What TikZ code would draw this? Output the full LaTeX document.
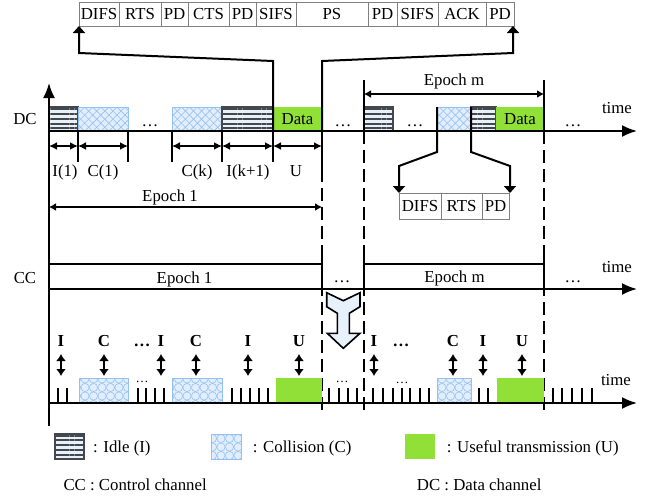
\documentclass[tikz,border=0pt]{standalone}
\usepackage{fontspec}
\setmainfont{Liberation Serif}
\usepackage{xcolor}
\usepackage{tikz}
\usetikzlibrary{arrows.meta,positioning,patterns.meta,calc}

\definecolor{idlegray}{RGB}{66,72,78}
\definecolor{idlelight}{RGB}{234,240,247}
\definecolor{collfill}{RGB}{226,238,253}
\definecolor{collline}{RGB}{150,192,240}
\definecolor{datagreen}{RGB}{144,224,56}
\definecolor{cellgray}{RGB}{128,128,128}
\definecolor{arrfill}{RGB}{230,241,252}

\tikzdeclarepattern{
  name=circmesh,
  type=uncolored,
  bounding box={(-4.25pt,-4.25pt) and (4.25pt,4.25pt)},
  tile size={(8.5pt,8.5pt)},
  code={
    \pgfsetlinewidth{0.6pt}
    \pgfpathcircle{\pgfpointorigin}{4.1pt}
    \pgfusepath{stroke}
  }
}

\begin{document}
\begin{tikzpicture}[x=1pt, y=-1pt,
font=\fontsize{16.8}{19}\selectfont,
txt/.style={anchor=base, inner sep=0pt},
legtxt/.style={anchor=base west, inner sep=0pt},
cell/.style={draw=cellgray, line width=0.8pt, minimum height=24pt, inner sep=0pt, outer sep=0pt},
blk/.style={inner sep=0pt, outer sep=0pt, minimum height=24pt, anchor=south west},
idleblk/.style={blk, draw=idlegray, line width=1.4pt, fill=idlelight, postaction={pattern={Lines[angle=0,distance=4.8pt,line width=2.1pt]}, pattern color=idlegray}},
collblk/.style={blk, draw=collline, line width=0.6pt, fill=collfill, postaction={pattern={Lines[angle=45,distance=5.7pt,line width=0.6pt]}, pattern color=collline}, postaction={pattern={Lines[angle=-45,distance=5.7pt,line width=0.6pt]}, pattern color=collline}},
collring/.style={blk, draw=collline, line width=0.6pt, fill=collfill, postaction={pattern=circmesh, pattern color=collline}},
datablk/.style={blk, fill=datagreen},
axis/.style={line width=2pt, -{Latex[length=15pt,width=12pt]}},
conn/.style={line width=2pt, -{Triangle[length=7pt,width=12pt]}},
dim/.style={line width=1.6pt, {Latex[length=8pt,width=8pt]}-{Latex[length=8pt,width=8pt]}},
vdim/.style={line width=2pt, {Latex[length=7pt,width=10pt]}-{Latex[length=7pt,width=10pt]}},
epoch/.style={line width=1.6pt, {Latex[length=7pt,width=8pt]}-{Latex[length=7pt,width=8pt]}},
bound/.style={line width=2pt, dash pattern=on 13pt off 6pt},
tick/.style={line width=2pt},
bigarr/.style={draw, line width=1.6pt, fill=arrfill, line join=miter}
]
\useasboundingbox (0,0) rectangle (654,498);

% frame exchange on top
\node[cell, minimum width=40pt, anchor=north west] (tdifs) at (79,2) {DIFS};
\node[cell, minimum width=42pt, right=0pt of tdifs] (trts) {RTS};
\node[cell, minimum width=27pt, right=0pt of trts] (tpd1) {PD};
\node[cell, minimum width=41pt, right=0pt of tpd1] (tcts) {CTS};
\node[cell, minimum width=27pt, right=0pt of tcts] (tpd2) {PD};
\node[cell, minimum width=40pt, right=0pt of tpd2] (tsifs1) {SIFS};
\node[cell, minimum width=72pt, right=0pt of tsifs1] (tps) {PS};
\node[cell, minimum width=29pt, right=0pt of tps] (tpd3) {PD};
\node[cell, minimum width=41pt, right=0pt of tpd3] (tsifs2) {SIFS};
\node[cell, minimum width=48pt, right=0pt of tsifs2] (tack) {ACK};
\node[cell, minimum width=28pt, right=0pt of tack] (tpd4) {PD};

% data channel
\node[txt] (dclab) at (25,124) {DC};
\node[idleblk, minimum width=29pt] (idle1) at (49,131) {};
\node[collblk, minimum width=50pt] (coll1) at (78,131) {};
\node[collblk, minimum width=50pt] (coll2) at (172,131) {};
\node[idleblk, minimum width=51pt] (idle2) at (222,131) {};
\node[datablk, minimum width=49pt] (data1) at (273,131) {Data};
\node[idleblk, minimum width=29pt] (idle3) at (364,131) {};
\node[collblk, minimum width=34pt] (collm) at (437,131) {};
\node[idleblk, minimum width=25pt] (idle4) at (471,131) {};
\node[datablk, minimum width=48pt] (datam) at (496,131) {Data};
\node[txt] at (150,126) {\dots};
\node[txt] at (343,126) {\dots};
\node[txt] at (415,126) {\dots};
\node[txt] at (573,126) {\dots};
\node[txt] (dctime) at (617,113) {time};

\coordinate (dc0) at (49,131);
\coordinate (dcend) at (637,131);
\draw[axis] (49,426) -- (49,83);
\draw[axis] (dc0) -- (dcend);

% boundaries of the epochs
\foreach \x in {322,364,544}
  \draw[bound] (\x,131) -- (\x,416);
\draw[tick] (322,131) -- (322,172);
\draw[tick] (364,80) -- (364,131);
\draw[tick] (544,80) -- (544,131);

% zoom on the frames
\coordinate (lbend) at (273,61);
\coordinate (lknee) at (79,53);
\coordinate (rbend) at (322,61);
\coordinate (rknee) at (513,53);
\draw[conn] (data1.south west) -- (lbend) -- (lknee) -- (tdifs.south west);
\draw[conn] (data1.south east) -- (rbend) -- (rknee) -- (rknee |- tpd4.south);

\node[cell, minimum width=42pt, minimum height=26pt, anchor=north west] (bdifs) at (399,193) {DIFS};
\node[cell, minimum width=41pt, minimum height=26pt, right=0pt of bdifs] (brts) {RTS};
\node[cell, minimum width=27pt, minimum height=26pt, right=0pt of brts] (bpd) {PD};
\coordinate (blbend) at (437,152);
\coordinate (blknee) at (399,166);
\coordinate (brbend) at (471,152);
\coordinate (brknee) at (510,166);
\draw[conn] (collm.north west) -- (blbend) -- (blknee) -- (bdifs.north west);
\draw[conn] (collm.north east) -- (brbend) -- (brknee) -- (brknee |- bpd.north);

% durations in epoch 1
\foreach \x in {78,128,172,222,273}
  \draw[tick] (\x,131) -- (\x,162);
\foreach \a/\b in {49/78,78/128,172/222,222/273,273/322}
  \draw[dim] (\a,146) -- (\b,146);
\node[txt] at (65,176.5) {I(1)};
\node[txt] at (103,176.5) {C(1)};
\node[txt] at (197,176.5) {C(k)};
\node[txt] at (248,176.5) {I(k+1)};
\node[txt] at (296,176.5) {U};
\draw[epoch] (49,207) -- (322,207);
\node[txt] at (170,201.5) {Epoch 1};
\draw[epoch] (364,94) -- (544,94);
\node[txt] at (454,85) {Epoch m};

% control channel
\node[txt] (cclab) at (25,283) {CC};
\draw[tick] (49,264) -- (322,264);
\draw[tick] (364,264) -- (544,264);
\foreach \x in {322,364,544}
  \draw[tick] (\x,254) -- (\x,293);
\draw[axis] (49,289) -- (637,289);
\node[txt] at (184.5,283) {Epoch 1};
\node[txt] at (454.5,282) {Epoch m};
\node[txt] at (342,282) {\dots};
\node[txt] at (573,282) {\dots};
\node[txt] (cctime) at (617,272) {time};

% block arrow
\draw[bigarr] (326.7,292.7) -- (326.7,306.7) -- (337.3,313.3) -- (337.3,333.3)
  -- (327.3,333.3) -- (343.3,348.3) -- (360,333.3) -- (349.3,333.3)
  -- (349.3,313.3) -- (360,306.7) -- (360,292.7) -- (343.3,300.7) -- cycle;

% resulting timeline
\node[collring, minimum width=49pt, minimum height=25pt] (bcoll1) at (79,403) {};
\node[collring, minimum width=50pt, minimum height=25pt] (bcoll2) at (172,403) {};
\node[datablk, minimum width=46pt, minimum height=25pt] (buse1) at (276,403) {};
\node[collring, minimum width=34pt, minimum height=25pt] (bcollm) at (437,403) {};
\node[datablk, minimum width=47pt, minimum height=25pt] (busem) at (497,403) {};
\foreach \x in {58,67,138,146,155,164,232,241,250,259,268,329,339,348,357,373,383,393,402,410,420,429,479,488,553,562,572,582,592}
  \draw[tick] (\x,388) -- (\x,403);
\draw[axis] (49,403) -- (637,403);
\node[txt, font=\fontsize{13}{15}\selectfont] at (142,382) {\dots};
\node[txt, font=\fontsize{13}{15}\selectfont] at (342,382) {\dots};
\node[txt, font=\fontsize{13}{15}\selectfont] at (402,383) {\dots};
\node[txt] (bottime) at (616,385) {time};

\foreach \x/\t in {61/I,104/C,161/I,196/C,248/I,299/U,374/I,453/C,483/I,522/U}{
  \node[txt, font=\fontsize{16.8}{19}\bfseries] at (\x,346.7) {\t};
  \draw[vdim] (\x,354) -- (\x,376);
}
\node[txt, font=\fontsize{16.8}{19}\bfseries] at (142,346.7) {\dots};
\node[txt, font=\fontsize{16.8}{19}\bfseries] at (401,346.7) {\dots};

% legend
\node[idleblk, minimum width=29pt, minimum height=25pt] (legidle) at (55,459) {};
\node[legtxt] at (93,452.7) {: Idle (I)};
\node[collring, minimum width=30pt, minimum height=25pt] (legcoll) at (211,459) {};
\node[legtxt] at (252.7,452.7) {: Collision (C)};
\node[datablk, minimum width=30pt, minimum height=25pt] (leguse) at (405,459) {};
\node[legtxt] at (446.7,452.7) {: Useful transmission (U)};
\node[legtxt] at (63.3,490) {CC : Control channel};
\node[legtxt] at (416.7,490) {DC : Data channel};
\end{tikzpicture}
\end{document}
